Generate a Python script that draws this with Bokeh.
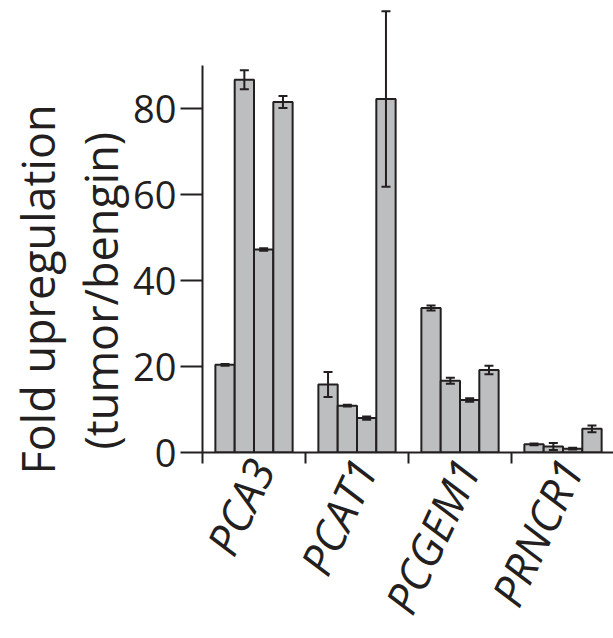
import numpy as np
from bokeh.plotting import figure
from bokeh.models import (ColumnDataSource, Range1d, FixedTicker,
                          Whisker, TeeHead, Title)
from bokeh.embed import file_html
from bokeh.resources import INLINE

# ---- data -------------------------------------------------------------
genes = ["PCA3", "PCAT1", "PCGEM1", "PRNCR1"]
pca3_vals = [20.4, 86.7, 47.2, 81.5]
pca3_err = [0.2, 2.2, 0.3, 1.4]
pcat1_vals = [15.8, 10.9, 8.0, 82.2]
pcat1_err = [2.9, 0.2, 0.4, 20.4]
pcgem1_vals = [33.6, 16.7, 12.2, 19.2]
pcgem1_err = [0.6, 0.7, 0.4, 1.0]
prncr1_vals = [1.9, 1.4, 0.9, 5.5]
prncr1_err = [0.2, 0.8, 0.2, 0.8]
y_ticks = [0, 20, 40, 60, 80]
y_label_1 = "Fold upregulation"
y_label_2 = "(tumor/bengin)"

vals = [pca3_vals, pcat1_vals, pcgem1_vals, prncr1_vals]
errs = [pca3_err, pcat1_err, pcgem1_err, prncr1_err]

# ---- layout of bars within groups ------------------------------------
n_bars = 4
pad = 0.125
bw = (1 - 2 * pad) / n_bars
xs, tops, ups, lows = [], [], [], []
for gi, (v, e) in enumerate(zip(vals, errs)):
    for j in range(n_bars):
        xs.append(gi + pad + bw * (j + 0.5))
        tops.append(v[j])
        ups.append(v[j] + e[j])
        lows.append(v[j] - e[j])
src = ColumnDataSource(dict(x=xs, top=tops, upper=ups, lower=lows))

INK = "#231f20"
FONT = "Open Sans"

W, H = 613, 638
LEFT, BOTTOM, TOP = 202, 186, 0
frame_w = W - LEFT
frame_h = H - BOTTOM - TOP
px_per_group = 103.0
px_per_unit = 4.3

p = figure(width=W, height=H, output_backend="svg", toolbar_location=None,
           x_range=Range1d(0, frame_w / px_per_group),
           y_range=Range1d(0, frame_h / px_per_unit),
           min_border_left=LEFT, min_border_bottom=BOTTOM,
           min_border_top=TOP, min_border_right=0,
           background_fill_color=None, border_fill_color="white",
           outline_line_color=None)
p.grid.visible = False

p.vbar(x="x", top="top", bottom=0, width=bw, source=src,
       fill_color="#bcbec0", line_color=INK, line_width=2)

wh = Whisker(source=src, base="x", upper="upper", lower="lower",
             line_color=INK, line_width=2, level="annotation",
             upper_head=TeeHead(size=9, line_color=INK, line_width=2),
             lower_head=TeeHead(size=9, line_color=INK, line_width=2))
p.add_layout(wh)

# ---- y axis -----------------------------------------------------------
ya = p.yaxis[0]
ya.ticker = FixedTicker(ticks=y_ticks)
ya.bounds = (0, 90)
ya.axis_line_color = INK
ya.axis_line_width = 2
ya.major_tick_line_color = INK
ya.major_tick_line_width = 2
ya.major_tick_out = 22
ya.major_tick_in = 0
ya.minor_tick_line_color = None
ya.major_label_standoff = 4
ya.major_label_text_font = FONT
ya.major_label_text_font_size = "38px"
ya.major_label_text_color = INK

for txt, off in ((y_label_2, 3), (y_label_1, -22)):
    p.add_layout(Title(text=txt, align="left", offset=off, standoff=0,
                       text_font=FONT, text_font_size="45px",
                       text_font_style="normal", text_color=INK), "left")

# ---- x axis -----------------------------------------------------------
xa = p.xaxis[0]
label_shift = 0.07
centers = [i + 0.5 + label_shift for i in range(len(genes))]
bounds_t = [float(i) for i in range(len(genes))]
xa.ticker = FixedTicker(ticks=centers, minor_ticks=bounds_t)
xa.major_label_overrides = {c: g for c, g in zip(centers, genes)}
xa.axis_line_color = INK
xa.axis_line_width = 2
xa.major_tick_line_color = None
xa.major_tick_out = 0
xa.major_tick_in = 0
xa.minor_tick_line_color = INK
xa.minor_tick_line_width = 2
xa.minor_tick_out = 11
xa.minor_tick_in = 0
xa.major_label_orientation = 1.13
xa.major_label_standoff = -2
xa.major_label_text_font = FONT
xa.major_label_text_font_style = "italic"
xa.major_label_text_font_size = "44px"
xa.major_label_text_line_height = 1.0
xa.major_label_text_color = INK

open("out.html", "w").write(file_html(p, INLINE))
